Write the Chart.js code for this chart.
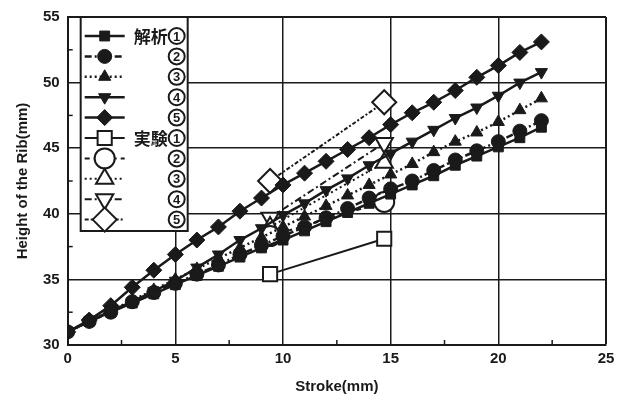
<!DOCTYPE html>
<html>
<head>
<meta charset="utf-8">
<script src="https://cdn.jsdelivr.net/npm/chart.js@4.4.0/dist/chart.umd.min.js"></script>
<style>
    html, body { margin: 0; padding: 0; background: #fff; }
    #wrap { width: 620px; height: 405px; }
</style>
</head>
<body>
<div id="wrap"><canvas id="ribChart"></canvas></div>
<script>
// Stroke values (mm)
const strokeCalc = [0, 1, 2, 3, 4, 5, 6, 7, 8, 9, 10, 11, 12, 13, 14, 15, 16, 17, 18, 19, 20, 21, 22];
const strokeExp = [9.4, 14.7];

// Analysis (解析) - height of the rib (mm)
const calc1 = [31.0, 31.8, 32.5, 33.2, 33.9, 34.6, 35.3, 36.0, 36.7, 37.4, 38.0, 38.7, 39.4, 40.1, 40.8, 41.5, 42.2, 42.9, 43.7, 44.4, 45.1, 45.8, 46.6];
const calc2 = [31.0, 31.8, 32.5, 33.3, 34.0, 34.7, 35.4, 36.1, 36.9, 37.6, 38.3, 39.0, 39.7, 40.4, 41.2, 41.9, 42.5, 43.3, 44.1, 44.8, 45.5, 46.3, 47.1];
const calc3 = [31.0, 31.8, 32.6, 33.4, 34.2, 35.0, 35.8, 36.6, 37.4, 38.2, 39.0, 39.8, 40.6, 41.4, 42.2, 43.0, 43.8, 44.7, 45.5, 46.2, 47.0, 47.9, 48.8];
const calc4 = [31.0, 31.8, 32.6, 33.3, 34.1, 34.9, 35.9, 36.9, 38.0, 38.9, 39.9, 40.8, 41.8, 42.7, 43.7, 44.6, 45.5, 46.4, 47.3, 48.1, 49.0, 50.0, 50.8];
const calc5 = [31.0, 31.9, 33.0, 34.4, 35.7, 36.9, 38.0, 39.0, 40.2, 41.2, 42.2, 43.1, 44.0, 44.9, 45.8, 46.8, 47.7, 48.5, 49.4, 50.4, 51.3, 52.3, 53.1];

// Experiment (実験)
const exp1 = [35.4, 38.1];
const exp2 = [38.3, 40.9];
const exp3 = [39.0, 43.9];
const exp4 = [39.7, 45.4];
const exp5 = [42.5, 48.5];

const legendLabels = ['解析①', '②', '③', '④', '⑤', '実験①', '②', '③', '④', '⑤'];
const circled = '①②③④⑤';

const INK = '#1a1a1a';
const toPoints = (xs, ys) => xs.map((x, i) => ({ x, y: ys[i] }));

function calcSet(label, ys, style, rotation, dash) {
    return {
        label,
        data: toPoints(strokeCalc, ys),
        borderColor: INK,
        backgroundColor: INK,
        borderWidth: 2.5,
        borderDash: dash,
        pointStyle: style,
        pointRotation: rotation,
        pointRadius: style === 'rectRot' ? 8 : 7,
        pointBorderWidth: 1,
        pointBackgroundColor: INK,
        pointBorderColor: INK,
        tension: 0
    };
}

function expSet(label, ys, style, rotation, dash) {
    return {
        label,
        data: toPoints(strokeExp, ys),
        borderColor: INK,
        backgroundColor: '#fff',
        borderWidth: 2,
        borderDash: dash,
        pointStyle: style,
        pointRotation: rotation,
        pointRadius: style === 'rectRot' ? 12 : 10,
        pointBorderWidth: 2,
        pointBackgroundColor: '#fff',
        pointBorderColor: INK,
        tension: 0
    };
}

const datasets = [
    calcSet(legendLabels[0], calc1, 'rect', 0, []),
    calcSet(legendLabels[1], calc2, 'circle', 0, [7, 3, 2, 3]),
    calcSet(legendLabels[2], calc3, 'triangle', 0, [2, 3]),
    calcSet(legendLabels[3], calc4, 'triangle', 180, []),
    calcSet(legendLabels[4], calc5, 'rectRot', 0, []),
    expSet(legendLabels[5], exp1, 'rect', 0, []),
    expSet(legendLabels[6], exp2, 'circle', 0, [5, 4]),
    expSet(legendLabels[7], exp3, 'triangle', 0, [2, 3]),
    expSet(legendLabels[8], exp4, 'triangle', 180, [7, 3, 2, 3]),
    expSet(legendLabels[9], exp5, 'rectRot', 0, [4, 2, 2, 2])
];

// minor ticks inside the frame + legend box inside the plot
const framePlugin = {
    id: 'frameAndLegend',
    afterDatasetsDraw(chart) {
        const { ctx, chartArea: a, scales } = chart;
        ctx.save();
        ctx.strokeStyle = INK;
        ctx.lineWidth = 1.5;
        for (let v = 2.5; v < 25; v += 5) {
            const px = scales.x.getPixelForValue(v);
            ctx.beginPath(); ctx.moveTo(px, a.bottom); ctx.lineTo(px, a.bottom - 5); ctx.stroke();
        }
        for (let v = 32.5; v < 55; v += 5) {
            const py = scales.y.getPixelForValue(v);
            ctx.beginPath(); ctx.moveTo(a.left, py); ctx.lineTo(a.left + 5, py); ctx.stroke();
        }

        // legend
        const bx = a.left + 13, by = a.top, bw = 107, bh = 214;
        ctx.fillStyle = '#fff';
        ctx.fillRect(bx, by, bw, bh);
        ctx.lineWidth = 2;
        ctx.strokeRect(bx, by, bw, bh);
        ctx.textAlign = 'center';
        ctx.textBaseline = 'middle';
        chart.data.datasets.forEach((ds, i) => {
            const y = by + 19 + i * 20.4;
            ctx.strokeStyle = INK;
            ctx.lineWidth = ds.borderWidth;
            ctx.setLineDash(ds.borderDash);
            ctx.beginPath(); ctx.moveTo(bx + 4, y); ctx.lineTo(bx + 44, y); ctx.stroke();
            ctx.setLineDash([]);
            ctx.fillStyle = ds.pointBackgroundColor;
            ctx.lineWidth = ds.pointBorderWidth;
            Chart.helpers.drawPoint(ctx, {
                pointStyle: ds.pointStyle,
                rotation: ds.pointRotation,
                radius: ds.pointRadius,
                borderWidth: ds.pointBorderWidth
            }, bx + 24, y);
            // circled number: ring + digit
            const last = ds.label.slice(-1);
            const head = ds.label.slice(0, -1);
            const cx = bx + bw - 11;
            ctx.lineWidth = 2;
            ctx.beginPath(); ctx.arc(cx, y, 8, 0, Math.PI * 2); ctx.stroke();
            ctx.fillStyle = INK;
            ctx.font = 'bold 13px "Liberation Sans", Arial';
            ctx.fillText(String(circled.indexOf(last) + 1), cx, y + 1);
            if (head) {
                ctx.textAlign = 'right';
                ctx.font = 'bold 17px "Noto Sans CJK JP"';
                ctx.fillText(head, cx - 9, y + 1);
                ctx.textAlign = 'center';
            }
        });
        ctx.restore();
    }
};

const tickFont = { family: '"Liberation Sans", Arial', size: 15, weight: 'bold' };
const titleFont = { family: '"Liberation Sans", Arial', size: 15, weight: 'bold' };

new Chart(document.getElementById('ribChart'), {
    type: 'line',
    data: { datasets },
    options: {
        responsive: true,
        maintainAspectRatio: false,
        animation: false,
        layout: { padding: { top: 8, right: 3, left: 10, bottom: 5 } },
        plugins: { legend: { display: false }, tooltip: { enabled: false } },
        scales: {
            x: {
                type: 'linear',
                min: 0,
                max: 25,
                ticks: { stepSize: 5, color: INK, font: tickFont, padding: 5 },
                grid: {
                    color: INK,
                    lineWidth: c => (c.tick && c.tick.value === 25 ? 2 : 1.5),
                    drawTicks: false
                },
                border: { color: INK, width: 2 },
                title: { display: true, text: 'Stroke(mm)', color: INK, font: titleFont, padding: { top: 5 } }
            },
            y: {
                min: 30,
                max: 55,
                ticks: { stepSize: 5, color: INK, font: tickFont, padding: 8 },
                grid: {
                    color: INK,
                    lineWidth: c => (c.tick && c.tick.value === 55 ? 2 : 1.5),
                    drawTicks: false
                },
                border: { color: INK, width: 2 },
                title: { display: true, text: 'Height of the Rib(mm)', color: INK, font: titleFont, padding: { bottom: 3 } }
            }
        }
    },
    plugins: [framePlugin]
});
</script>
</body>
</html>
